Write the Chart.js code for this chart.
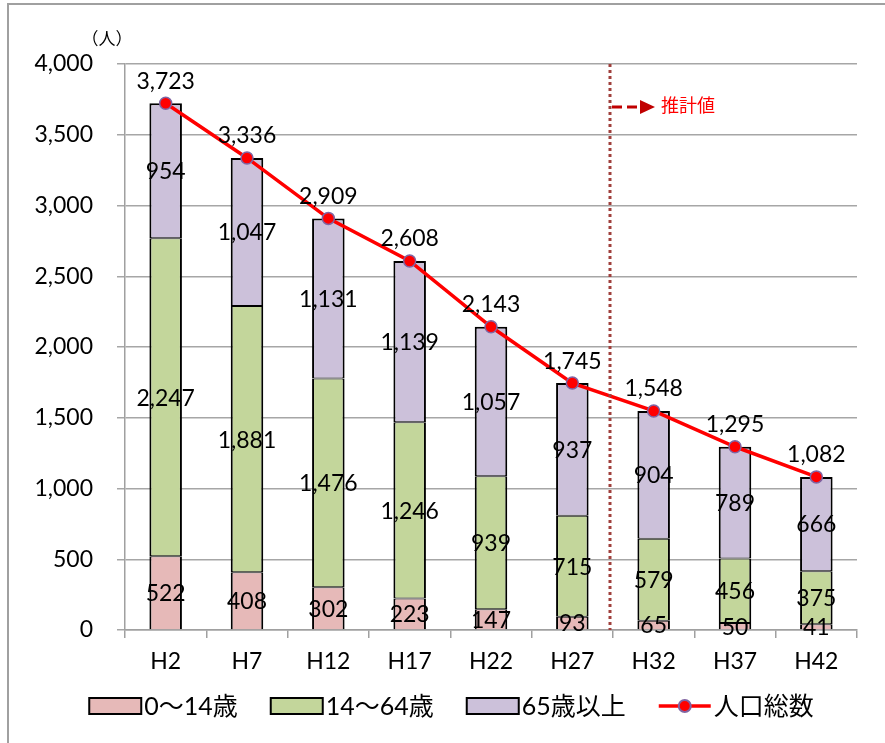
<!DOCTYPE html>
<html>
<head>
<meta charset="utf-8">
<script src="https://cdn.jsdelivr.net/npm/chart.js@4"></script>
<style>
    html, body {
        margin: 0;
        padding: 0;
        background: #ffffff;
    }
    #wrap {
        width: 885px;
        height: 743px;
    }
</style>
</head>
<body>
<div id="wrap"><canvas id="population-chart"></canvas></div>
<script>
let years = ['H2', 'H7', 'H12', 'H17', 'H22', 'H27', 'H32', 'H37', 'H42'];
let young = [522, 408, 302, 223, 147, 93, 65, 50, 41];
let working = [2247, 1881, 1476, 1246, 939, 715, 579, 456, 375];
let elderly = [954, 1047, 1131, 1139, 1057, 937, 904, 789, 666];
let total = [3723, 3336, 2909, 2608, 2143, 1745, 1548, 1295, 1082];
let yTicks = [0, 500, 1000, 1500, 2000, 2500, 3000, 3500, 4000];

const FONT = 'Lato, "Noto Sans CJK JP", sans-serif';
const estimateStart = 6; // index of the first estimated year (H32)

function fmt(v) {
    return v.toLocaleString('en-US');
}

// outer frame (only top and left edges are visible in the picture)
const framePlugin = {
    id: 'frame',
    beforeDraw(chart) {
        const ctx = chart.ctx;
        ctx.save();
        ctx.strokeStyle = '#a0a0a0';
        ctx.lineWidth = 2;
        ctx.beginPath();
        ctx.moveTo(8, chart.height);
        ctx.lineTo(8, 4);
        ctx.lineTo(chart.width, 4);
        ctx.stroke();
        ctx.restore();
    }
};

// value labels, estimate marker, unit text and legend
const labelPlugin = {
    id: 'labels',
    afterDatasetsDraw(chart) {
        const ctx = chart.ctx;
        const area = chart.chartArea;
        const xScale = chart.scales.x;

        // dotted separator between actual and estimated years
        const sepX = (xScale.getPixelForValue(estimateStart - 1) + xScale.getPixelForValue(estimateStart)) / 2 - 3;
        ctx.save();
        ctx.strokeStyle = '#a0403c';
        ctx.lineWidth = 3;
        ctx.setLineDash([3, 3]);
        ctx.beginPath();
        ctx.moveTo(sepX, area.top);
        ctx.lineTo(sepX, area.bottom);
        ctx.stroke();

        // dashed arrow + 推計値
        const ay = area.top + 43;
        ctx.strokeStyle = '#c00000';
        ctx.setLineDash([10, 5]);
        ctx.beginPath();
        ctx.moveTo(sepX + 2, ay);
        ctx.lineTo(sepX + 30, ay);
        ctx.stroke();
        ctx.setLineDash([]);
        ctx.fillStyle = '#c00000';
        ctx.beginPath();
        ctx.moveTo(sepX + 30, ay - 7);
        ctx.lineTo(sepX + 45, ay);
        ctx.lineTo(sepX + 30, ay + 7);
        ctx.closePath();
        ctx.fill();
        ctx.fillStyle = '#ff0000';
        ctx.font = '18px ' + FONT;
        ctx.textAlign = 'left';
        ctx.textBaseline = 'middle';
        ctx.fillText('推計値', sepX + 51, ay - 1);
        ctx.restore();

        // numbers on bars and above the line
        ctx.save();
        ctx.fillStyle = '#000000';
        ctx.font = '23px ' + FONT;
        ctx.textAlign = 'center';
        ctx.textBaseline = 'middle';
        chart.data.datasets.forEach((ds, i) => {
            const meta = chart.getDatasetMeta(i);
            meta.data.forEach((el, j) => {
                const text = fmt(ds.data[j]);
                if (ds.type === 'line') {
                    ctx.fillText(text, el.x, el.y - 22);
                } else {
                    ctx.fillText(text, el.x, (el.y + el.base) / 2 + 1);
                }
            });
        });

        // unit
        ctx.font = '17px ' + FONT;
        ctx.fillText('（人）', area.left - 18, area.top - 24);
        ctx.restore();

        drawLegend(chart);
    }
};

function drawLegend(chart) {
    const ctx = chart.ctx;
    const boxW = 52;
    const boxH = 16;
    const gap = 3;
    const spacing = 33;
    const cy = 706;
    ctx.save();
    ctx.font = '25px ' + FONT;
    ctx.textBaseline = 'middle';
    ctx.textAlign = 'left';

    let items = chart.data.datasets.map(ds => ({
        text: ds.label,
        ds: ds,
        w: boxW + gap + ctx.measureText(ds.label).width
    }));
    // legend order follows the picture: bars first, line last
    items.sort((a, b) => (a.ds.type === 'line') - (b.ds.type === 'line'));
    let totalW = items.reduce((s, it) => s + it.w, 0) + spacing * (items.length - 1);
    let x = (chart.width + 18 - totalW) / 2;

    items.forEach(it => {
        if (it.ds.type === 'line') {
            ctx.strokeStyle = it.ds.borderColor;
            ctx.lineWidth = 3.5;
            ctx.beginPath();
            ctx.moveTo(x, cy);
            ctx.lineTo(x + boxW, cy);
            ctx.stroke();
            ctx.fillStyle = it.ds.pointBackgroundColor;
            ctx.strokeStyle = it.ds.pointBorderColor;
            ctx.lineWidth = 2;
            ctx.beginPath();
            ctx.arc(x + boxW / 2, cy, 6, 0, Math.PI * 2);
            ctx.fill();
            ctx.stroke();
        } else {
            ctx.fillStyle = it.ds.backgroundColor;
            ctx.fillRect(x, cy - boxH / 2, boxW, boxH);
            ctx.strokeStyle = '#000000';
            ctx.lineWidth = 2;
            ctx.strokeRect(x, cy - boxH / 2, boxW, boxH);
        }
        ctx.fillStyle = '#000000';
        ctx.fillText(it.text, x + boxW + gap, cy + 1);
        x += it.w + spacing;
    });
    ctx.restore();
}

function drawChart() {
    const ctx = document.getElementById('population-chart').getContext('2d');
    // segments share edges, so inner edges get half width each
    const barStyle = {
        type: 'bar',
        stack: 'age',
        order: 1,
        borderColor: '#000000',
        borderSkipped: false,
        barPercentage: 0.4,
        categoryPercentage: 1,
    };
    const data = {
        labels: years,
        datasets: [
            Object.assign({}, barStyle, {
                label: '0〜14歳',
                data: young,
                backgroundColor: '#e6b9b8',
                borderWidth: { top: 1, bottom: 0, left: 2, right: 2 },
            }),
            Object.assign({}, barStyle, {
                label: '14〜64歳',
                data: working,
                backgroundColor: '#c3d69b',
                borderWidth: { top: 1, bottom: 1, left: 2, right: 2 },
            }),
            Object.assign({}, barStyle, {
                label: '65歳以上',
                data: elderly,
                backgroundColor: '#ccc1da',
                borderWidth: { top: 2, bottom: 1, left: 2, right: 2 },
            }),
            {
                type: 'line',
                label: '人口総数',
                data: total,
                stack: 'total',
                order: 0,
                borderColor: '#ff0000',
                borderWidth: 3.5,
                pointRadius: 6,
                pointBackgroundColor: '#ff0000',
                pointBorderColor: '#8064a2',
                pointBorderWidth: 1.5,
                tension: 0,
            },
        ]
    };
    let myChart = new Chart(ctx, {
        data: data,
        options: {
            responsive: true,
            maintainAspectRatio: false,
            animation: false,
            layout: {
                padding: { top: 64, right: 28, bottom: 63, left: 0 },
            },
            plugins: {
                legend: { display: false },
                tooltip: { enabled: false },
            },
            scales: {
                x: {
                    stacked: true,
                    grid: {
                        drawOnChartArea: false,
                        drawTicks: true,
                        tickLength: 8,
                        color: '#a0a0a0',
                        lineWidth: 1.5,
                    },
                    border: { color: '#a0a0a0', width: 1.5 },
                    ticks: {
                        color: '#000000',
                        font: { family: FONT, size: 23 },
                        padding: 10,
                    },
                    afterFit(scale) {
                        scale.height = 50;
                    },
                },
                y: {
                    stacked: true,
                    min: yTicks[0],
                    max: yTicks[yTicks.length - 1],
                    afterBuildTicks(scale) {
                        scale.ticks = yTicks.map(v => ({ value: v }));
                    },
                    grid: {
                        color: '#a6a6a6',
                        lineWidth: 1.5,
                        tickLength: 8,
                    },
                    border: { color: '#a0a0a0', width: 1.5 },
                    ticks: {
                        color: '#000000',
                        font: { family: FONT, size: 23 },
                        padding: 24,
                        callback: v => fmt(v),
                    },
                    afterFit(scale) {
                        scale.width = 125;
                    },
                },
            },
        },
        plugins: [framePlugin, labelPlugin],
    });
}

drawChart();
</script>
</body>
</html>
